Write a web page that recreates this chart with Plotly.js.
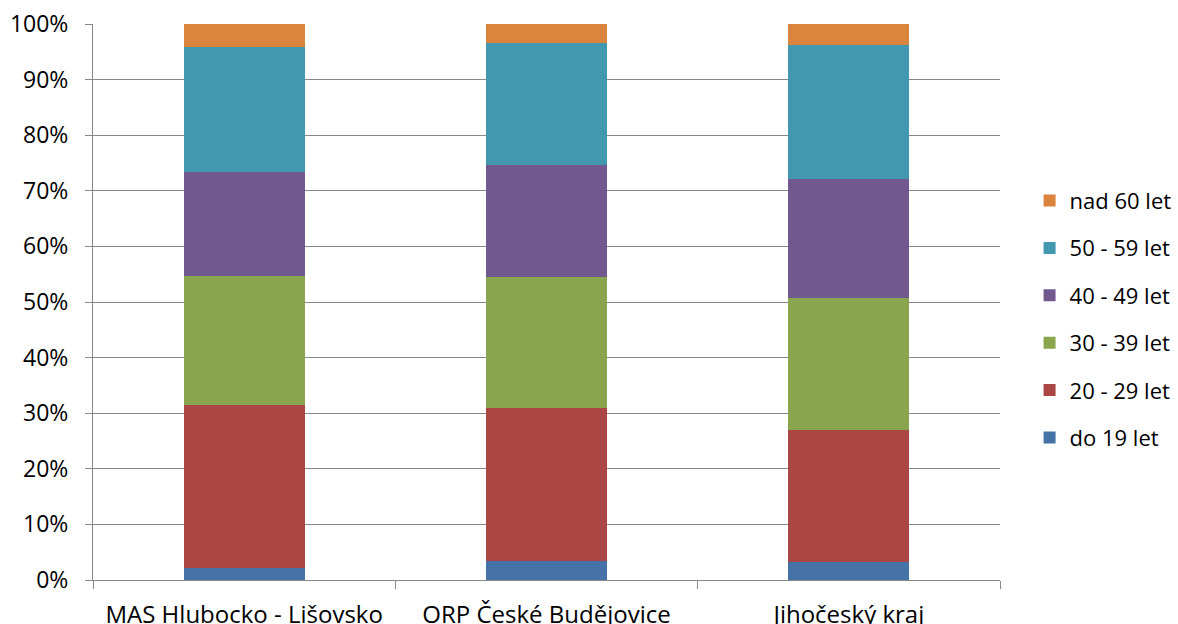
<!DOCTYPE html>
<html><head><meta charset="utf-8">
<script src="https://cdn.plot.ly/plotly-3.0.1.min.js"></script>
<style>html,body{margin:0;padding:0;background:#fff;}#chart{width:1178px;height:624px;}</style>
</head><body><div id="chart"></div>
<script>
const categories = ["MAS Hlubocko - Lišovsko", "ORP České Budějovice", "Jihočeský kraj"];
const seriesNames = ["do 19 let", "20 - 29 let", "30 - 39 let", "40 - 49 let", "50 - 59 let", "nad 60 let"];
const do19 = [2.1, 3.4, 3.3];
const let20_29 = [29.3, 27.6, 23.7];
const let30_39 = [23.2, 23.5, 23.8];
const let40_49 = [18.8, 20.1, 21.3];
const let50_59 = [22.4, 21.9, 24.1];
const nad60 = [4.2, 3.5, 3.8];
const colors = ["#4572A7", "#AA4643", "#89A54E", "#71588F", "#4198AF", "#DB843D"];
const yTickVals = [0,10,20,30,40,50,60,70,80,90,100];
const yTickText = ["0%","10%","20%","30%","40%","50%","60%","70%","80%","90%","100%"];

const seriesValues = [do19, let20_29, let30_39, let40_49, let50_59, nad60];
const traces = seriesValues.map((vals, i) => ({
  type: "bar",
  name: seriesNames[i],
  x: categories,
  y: vals,
  legendgroup: "g" + i,
  legendrank: 1000 - i,
  marker: {color: colors[i], line: {width: 0}},
  width: 0.4,
  hoverinfo: "name+y"
}));

const layout = {
  width: 1178, height: 624,
  margin: {l: 93, r: 178, t: 24, b: 44},
  barmode: "stack",
  paper_bgcolor: "#fff", plot_bgcolor: "#fff",
  font: {family: "'Open Sans', Lato, sans-serif", size: 23, color: "#000"},
  xaxis: {
    type: "category",
    showgrid: false,
    showline: true, linecolor: "#888", linewidth: 1,
    ticks: "outside", tickson: "boundaries", ticklen: 8, tickcolor: "#888",
    ticklabelstandoff: 13,
    tickfont: {size: 24, color: "#000"},
    automargin: false,
    fixedrange: true
  },
  yaxis: {
    range: [0, 100],
    tickvals: yTickVals, ticktext: yTickText,
    showgrid: true, gridcolor: "#888", gridwidth: 1,
    showline: true, linecolor: "#888", linewidth: 1,
    ticks: "outside", ticklen: 7, tickcolor: "#888",
    ticklabelstandoff: 12,
    zeroline: false,
    automargin: false,
    tickfont: {size: 23, color: "#000"},
    fixedrange: true
  },
  legend: {
    xref: "container", x: 0.874, xanchor: "left",
    y: 0.72, yanchor: "top",
    traceorder: "grouped",
    tracegroupgap: 15.8,
    font: {size: 22, color: "#000"},
    itemwidth: 30
  },
  showlegend: true
};

Plotly.newPlot("chart", traces, layout, {displayModeBar: false, staticPlot: true});
</script>
</body></html>
